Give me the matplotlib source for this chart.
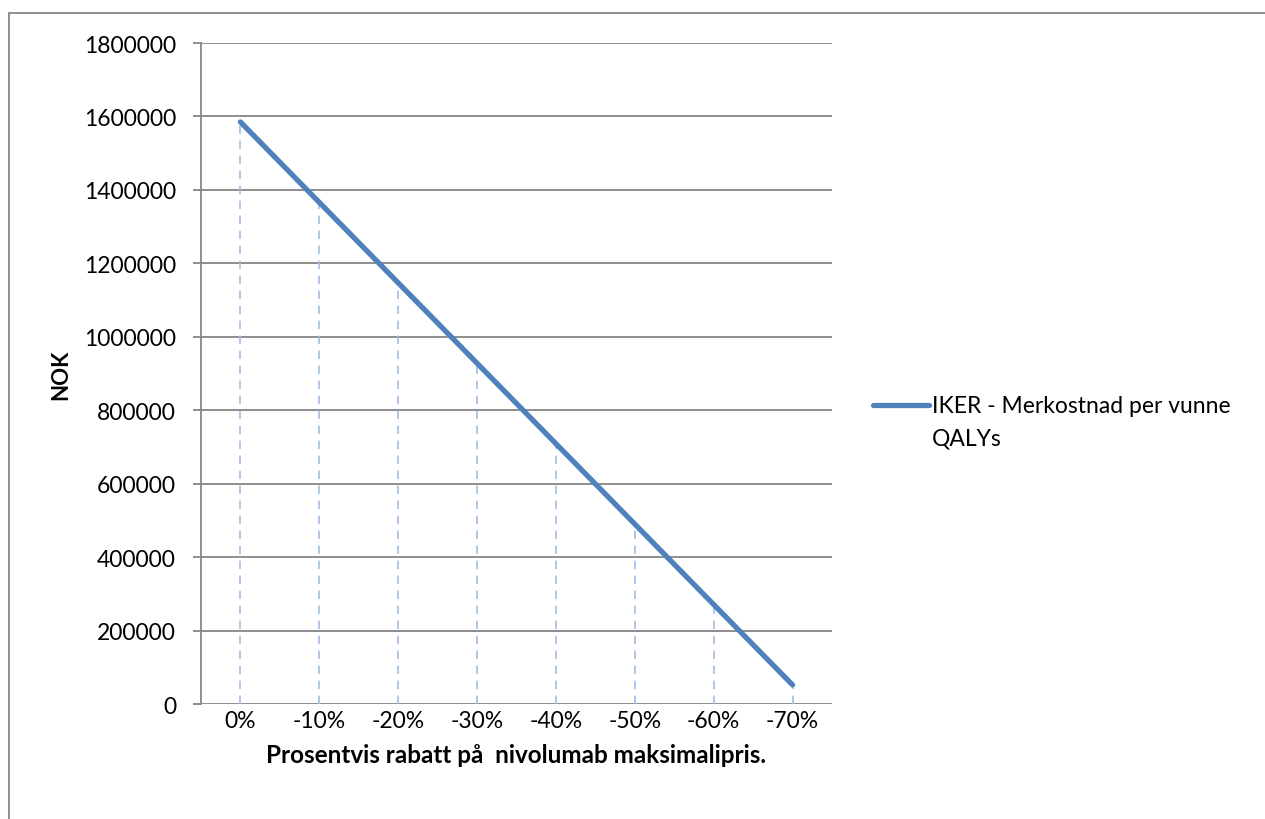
import matplotlib.pyplot as plt
from matplotlib.lines import Line2D
from matplotlib.patches import Rectangle

plt.rcParams['font.family'] = ['Lato', 'DejaVu Sans']

categories = ['0%', '-10%', '-20%', '-30%', '-40%', '-50%', '-60%', '-70%']
iker = [1585000, 1366000, 1147000, 928000, 709000, 490000, 271000, 52000]
yticks = [0, 200000, 400000, 600000, 800000, 1000000, 1200000, 1400000, 1600000, 1800000]

fig = plt.figure(figsize=(12.65, 8.2), dpi=100)
ax = fig.add_axes([0.1589, 0.1402, 0.4988, 0.8061])

x = list(range(len(categories)))
# drop lines
ax.vlines(x, 0, iker, colors='#a3bde6', linestyles=(0, (5, 4)), linewidth=1.2, zorder=2)
ax.plot(x, iker, color='#4f81bd', linewidth=3.8, solid_capstyle='round', zorder=3)

ax.set_xlim(-0.5, len(categories) - 0.5)
ax.set_ylim(0, 1800000)
ax.set_yticks(yticks)
ax.set_yticklabels([str(v) for v in yticks], fontsize=16.5)
ax.set_xticks(x)
ax.set_xticklabels(categories, fontsize=16.5)
ax.grid(axis='y', color='#868686', linewidth=1.3, zorder=1)
for s in ['top', 'right', 'bottom']:
    ax.spines[s].set_visible(False)
ax.spines['left'].set_color('#868686')
ax.spines['left'].set_linewidth(1.3)
ax.tick_params(axis='y', length=6, color='#868686', width=1.3, pad=12)
ax.tick_params(axis='x', length=0, pad=4)

ax.set_xlabel('Prosentvis rabatt på  nivolumab maksimalipris.', fontsize=17.5,
              fontweight='bold', labelpad=9)
ax.set_ylabel('NOK', fontsize=16, fontweight='bold', labelpad=9)

# legend drawn by hand
fig.add_artist(Line2D([873 / 1265, 929 / 1265], [1 - 406 / 820, 1 - 406 / 820],
                      color='#4f81bd', linewidth=3.8, solid_capstyle='round'))
fig.text(932 / 1265, 1 - 396 / 820, 'IKER - Merkostnad per vunne\nQALYs', fontsize=16.5,
         va='top', ha='left', linespacing=1.65)

# outer chart frame
fig.add_artist(Rectangle((9 / 1265, -0.1), 1.2, 1 - 14 / 820 + 0.1,
                         transform=fig.transFigure, fill=False,
                         edgecolor='#868686', linewidth=1.3))

fig.savefig('out.png', dpi=100)
